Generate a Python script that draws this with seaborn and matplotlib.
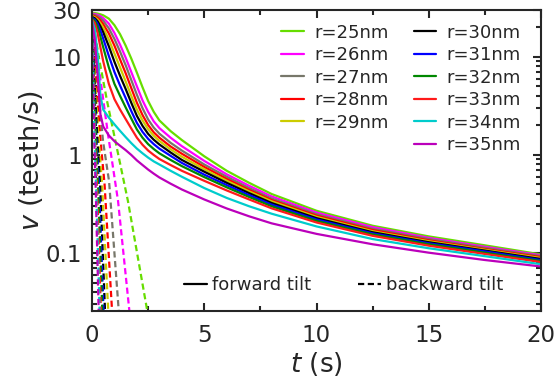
import pandas as pd
import matplotlib
matplotlib.use('Agg')
import matplotlib.pyplot as plt
import seaborn as sns
from matplotlib.lines import Line2D
from matplotlib.ticker import FixedLocator, LogLocator, MultipleLocator, NullFormatter

# ---------------- data ----------------
radii = ['r=25nm', 'r=26nm', 'r=27nm', 'r=28nm', 'r=29nm', 'r=30nm',
         'r=31nm', 'r=32nm', 'r=33nm', 'r=34nm', 'r=35nm']
line_colors = ['#66dd00', '#ff00ff', '#77776a', '#ff0000', '#cccc00', '#000000',
               '#0000ff', '#008800', '#ff1a1a', '#00cccc', '#bb00bb']

# forward tilt (solid), common time grid
t_fwd = [0, 0.125, 0.25, 0.375, 0.5, 0.75, 1, 1.25, 1.5, 1.75, 2, 2.25, 2.5, 2.75, 3, 3.5,
         4, 5, 6, 7, 8, 10, 12.5, 15, 17.5, 20]
fwd_25 = [28, 27.9, 27.6, 27.1, 26.5, 24.5, 21, 17, 13, 9.6, 6.9, 4.9, 3.55, 2.75, 2.25, 1.75,
          1.42, 0.97, 0.69, 0.52, 0.40, 0.27, 0.19, 0.148, 0.12, 0.097]
fwd_26 = [27.5, 27.3, 26.8, 26, 24.8, 21.8, 17.5, 13.3, 9.8, 7.0, 5.0, 3.6, 2.75, 2.2, 1.88, 1.5,
          1.23, 0.87, 0.635, 0.485, 0.378, 0.259, 0.184, 0.143, 0.116, 0.095]
fwd_27 = [27, 26.7, 26, 24.8, 23.3, 19.5, 15.2, 11.3, 8.2, 5.8, 4.1, 3.0, 2.3, 1.9, 1.65, 1.33,
          1.11, 0.8, 0.6, 0.46, 0.36, 0.249, 0.177, 0.139, 0.113, 0.093]
fwd_28 = [26.5, 26, 25, 23.5, 21.5, 17.3, 13, 9.4, 6.8, 4.8, 3.4, 2.55, 2.02, 1.7, 1.5, 1.22,
          1.03, 0.755, 0.57, 0.44, 0.347, 0.241, 0.172, 0.135, 0.11, 0.091]
fwd_29 = [26, 25.3, 24, 22, 19.8, 15, 10.8, 7.8, 5.6, 4.0, 2.9, 2.25, 1.83, 1.57, 1.39, 1.14,
          0.96, 0.715, 0.545, 0.425, 0.337, 0.234, 0.167, 0.132, 0.108, 0.089]
fwd_30 = [25.5, 24.7, 23, 20.5, 17.8, 12.8, 8.9, 6.4, 4.7, 3.4, 2.5, 1.98, 1.64, 1.43, 1.28, 1.06,
          0.89, 0.675, 0.52, 0.408, 0.324, 0.227, 0.163, 0.129, 0.106, 0.087]
fwd_31 = [25, 24, 21.8, 18.5, 15.3, 10.2, 7.0, 5.1, 3.8, 2.8, 2.12, 1.72, 1.46, 1.29, 1.16, 0.98,
          0.83, 0.63, 0.493, 0.39, 0.312, 0.22, 0.159, 0.126, 0.104, 0.085]
fwd_32 = [24.5, 23.2, 20.2, 16, 12.5, 7.8, 5.3, 4.0, 3.05, 2.35, 1.82, 1.5, 1.29, 1.15, 1.04, 0.89,
          0.77, 0.595, 0.468, 0.373, 0.3, 0.213, 0.155, 0.123, 0.101, 0.083]
fwd_33 = [24, 22, 17.5, 12.5, 9.0, 5.3, 3.7, 2.9, 2.32, 1.86, 1.5, 1.27, 1.11, 1.0, 0.91, 0.79,
          0.69, 0.545, 0.435, 0.352, 0.286, 0.205, 0.15, 0.119, 0.098, 0.081]
fwd_34 = [23.5, 19, 10.5, 4.0, 2.9, 2.4, 2.05, 1.76, 1.52, 1.32, 1.16, 1.04, 0.94, 0.86, 0.8, 0.69,
          0.6, 0.46, 0.365, 0.3, 0.252, 0.187, 0.139, 0.112, 0.093, 0.077]
fwd_35 = [22.5, 15, 6.5, 2.6, 1.95, 1.58, 1.38, 1.24, 1.12, 1.0, 0.88, 0.79, 0.71, 0.645, 0.59, 0.51,
          0.445, 0.352, 0.285, 0.237, 0.201, 0.157, 0.123, 0.101, 0.085, 0.073]

# backward tilt (dashed), own time points per radius
bwd_t_25 = [0, 0.3, 0.67, 1.6, 2.6]
bwd_v_25 = [27, 10, 3.55, 0.34, 0.017]
bwd_t_26 = [0, 0.35, 0.71, 1.16, 1.85]
bwd_v_26 = [26, 6.5, 1.64, 0.34, 0.01]
bwd_t_27 = [0, 0.25, 0.49, 0.76, 1.3]
bwd_v_27 = [25, 5.5, 1.39, 0.54, 0.012]
bwd_t_28 = [0, 0.2, 0.38, 0.56, 1.0]
bwd_v_28 = [25, 5, 1.4, 0.5, 0.01]
bwd_t_29 = [0, 0.15, 0.3, 0.45, 0.81]
bwd_v_29 = [24, 5, 1.4, 0.5, 0.01]
bwd_t_30 = [0, 0.12, 0.24, 0.36, 0.65]
bwd_v_30 = [24, 5, 1.4, 0.5, 0.01]
bwd_t_31 = [0, 0.1, 0.2, 0.31, 0.58]
bwd_v_31 = [23, 5, 1.4, 0.5, 0.01]
bwd_t_32 = [0, 0.09, 0.18, 0.27, 0.52]
bwd_v_32 = [23, 5, 1.4, 0.5, 0.01]
bwd_t_33 = [0, 0.07, 0.14, 0.22, 0.45]
bwd_v_33 = [22, 5, 1.4, 0.5, 0.01]
bwd_t_34 = [0, 0.06, 0.12, 0.18, 0.39]
bwd_v_34 = [22, 5, 1.4, 0.5, 0.01]
bwd_t_35 = [0, 0.05, 0.1, 0.16, 0.34]
bwd_v_35 = [21, 5, 1.4, 0.5, 0.01]

fwd_all = [fwd_25, fwd_26, fwd_27, fwd_28, fwd_29, fwd_30, fwd_31, fwd_32, fwd_33, fwd_34, fwd_35]
bwd_all = [(bwd_t_25, bwd_v_25), (bwd_t_26, bwd_v_26), (bwd_t_27, bwd_v_27), (bwd_t_28, bwd_v_28),
           (bwd_t_29, bwd_v_29), (bwd_t_30, bwd_v_30), (bwd_t_31, bwd_v_31), (bwd_t_32, bwd_v_32),
           (bwd_t_33, bwd_v_33), (bwd_t_34, bwd_v_34), (bwd_t_35, bwd_v_35)]

x_ticks = [0, 5, 10, 15, 20]
y_ticks = [0.1, 1, 10, 30]
y_ticklabels = ['0.1', '1', '10', '30']

# ---------------- long table for seaborn ----------------
rows = []
for r, vals in zip(radii, fwd_all):
    for t, v in zip(t_fwd, vals):
        rows.append({'t': t, 'v': v, 'r': r, 'tilt': 'forward tilt'})
for r, (ts, vs) in zip(radii, bwd_all):
    for t, v in zip(ts, vs):
        rows.append({'t': t, 'v': v, 'r': r, 'tilt': 'backward tilt'})
df = pd.DataFrame(rows)

# ---------------- plot ----------------
sns.set_style('ticks')
plt.rcParams['font.family'] = ['DejaVu Sans']
plt.rcParams['axes.linewidth'] = 1.5

fig = plt.figure(figsize=(5.58, 3.81), dpi=100)
ax = fig.add_axes([92 / 558, 1 - 311 / 381, 449 / 558, 301 / 381])

palette = dict(zip(radii, line_colors))
sns.lineplot(data=df, x='t', y='v', hue='r', style='tilt', hue_order=radii,
             style_order=['forward tilt', 'backward tilt'], palette=palette,
             dashes={'forward tilt': '', 'backward tilt': (2.8, 1.6)},
             estimator=None, legend=False, lw=1.6, ax=ax)

ax.set_yscale('log')
ax.set_xlim(0, 20)
ax.set_ylim(0.0257, 30)

ax.xaxis.set_major_locator(FixedLocator(x_ticks))
ax.xaxis.set_minor_locator(MultipleLocator(2.5))
ax.yaxis.set_major_locator(FixedLocator(y_ticks))
ax.set_yticklabels(y_ticklabels)
ax.yaxis.set_minor_locator(LogLocator(base=10, subs=range(2, 10)))
ax.yaxis.set_minor_formatter(NullFormatter())

ax.tick_params(which='both', direction='in', top=True, right=True, width=1.5, labelsize=16.5)
ax.tick_params(axis='x', which='major', pad=9.5)
ax.tick_params(axis='y', which='major', pad=7.5)
ax.tick_params(which='major', length=6)
ax.tick_params(which='minor', length=3.5)

ax.set_xlabel('$t$ (s)', fontsize=19, labelpad=2)
ax.set_ylabel('$v$ (teeth/s)', fontsize=19.5, labelpad=0)

# radius legend: 5 entries in first column, 6 in second
handles = [Line2D([], [], color=c, lw=1.6) for c in line_colors]
labels = list(radii)
handles.insert(5, Line2D([], [], color='none'))
labels.insert(5, '')
leg1 = ax.legend(handles, labels, ncol=2, frameon=False, fontsize=13,
                 loc='upper left', bbox_to_anchor=(0.422, 0.955),
                 handlelength=1.25, handletextpad=0.55, columnspacing=1.4,
                 labelspacing=0.25, borderpad=0, borderaxespad=0)
ax.add_artist(leg1)

tilt_handles = [Line2D([], [], color='black', lw=1.6),
                Line2D([], [], color='black', lw=1.6, dashes=(2.8, 1.6))]
ax.legend(tilt_handles, ['forward tilt', 'backward tilt'], ncol=2, frameon=False,
          fontsize=13, loc='center left', bbox_to_anchor=(0.205, 0.086),
          handlelength=1.25, handletextpad=0.3, columnspacing=2.6,
          borderpad=0, borderaxespad=0)

fig.savefig('out.png', dpi=100)
